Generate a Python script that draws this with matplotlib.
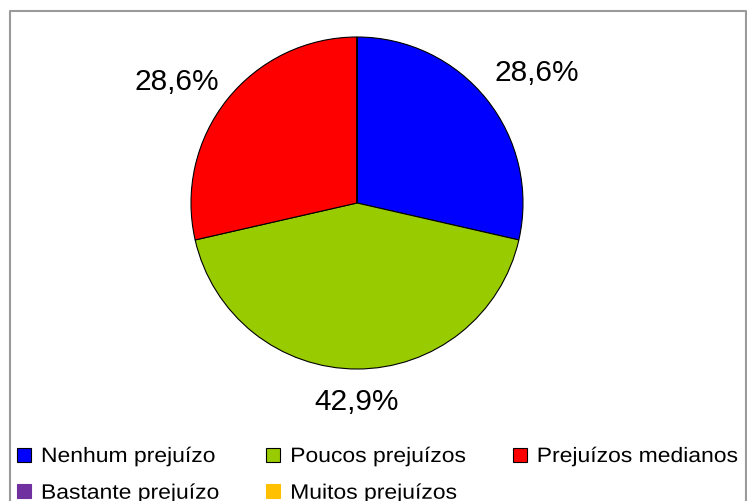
import numpy as np
import matplotlib.pyplot as plt
from matplotlib.lines import Line2D
from matplotlib.patches import Patch
from matplotlib.patheffects import AbstractPathEffect
from matplotlib.transforms import Affine2D

categorias = ['Nenhum prejuízo', 'Poucos prejuízos', 'Prejuízos medianos',
              'Bastante prejuízo', 'Muitos prejuízos']
contagens = [2, 3, 2, 0, 0]
cores = ['#0000FF', '#99CC00', '#FF0000', '#7030A0', '#FFC000']
rotulos = ['28,6%', '42,9%', '28,6%']

fonte = ['Liberation Sans', 'DejaVu Sans']


class Esticada(AbstractPathEffect):
    # estica o texto na horizontal (a legenda original tem letras espacadas)
    def __init__(self, sx):
        super().__init__()
        self.sx = sx

    def draw_path(self, renderer, gc, tpath, affine, rgbFace=None):
        renderer.draw_path(gc, tpath, Affine2D().scale(self.sx, 1) + affine, rgbFace)


fig = plt.figure(figsize=(7.47, 5.02), dpi=100)

# moldura cinza (sem base visivel)
W, H = 747, 502
x0, x1, ytop = 9.5 / W, 745.5 / W, 1 - 11.5 / H
fig.add_artist(Line2D([x0, x0, x1, x1], [-0.01, ytop, ytop, -0.01],
                      transform=fig.transFigure, color='#9a9a9a', lw=1.5))

cx, cy, r = 357, 204, 166
ax = fig.add_axes([(cx - r) / W, (H - cy - r) / H, 2 * r / W, 2 * r / H])
wedges, _ = ax.pie(contagens, colors=cores, startangle=90, counterclock=False,
                   wedgeprops=dict(edgecolor='black', linewidth=0.8))
ax.set_xlim(-1, 1)
ax.set_ylim(-1, 1)
ax.set_aspect('equal')

dist = [1.34, 1.19, 1.31]
ang_off = [-2.5, 0, 4.5]
for w, txt, d, da in zip(wedges[:3], rotulos, dist, ang_off):
    a = np.deg2rad((w.theta1 + w.theta2) / 2 + da)
    ax.text(d * np.cos(a), d * np.sin(a), txt, ha='center', va='center',
            fontsize=21.5, family=fonte, clip_on=False)

handles = []
for i, c in enumerate(cores):
    ec = 'black' if contagens[i] > 0 else c
    handles.append(Patch(facecolor=c, edgecolor=ec, linewidth=0.8))

# ordem por linhas: a legenda preenche por colunas
ordem = [0, 3, 1, 4, 2]
leg = fig.legend([handles[i] for i in ordem], [categorias[i] for i in ordem],
                 ncol=3, loc='upper left',
                 bbox_to_anchor=(17 / W, 1 - 448 / H), frameon=False,
                 prop=dict(family=fonte, size=15),
                 handlelength=0.67, handleheight=0.67, handletextpad=0.48,
                 columnspacing=3.0, labelspacing=0.85, borderpad=0, borderaxespad=0)
for t in leg.get_texts():
    t.set_path_effects([Esticada(1.1)])

fig.savefig('out.png', dpi=100)
